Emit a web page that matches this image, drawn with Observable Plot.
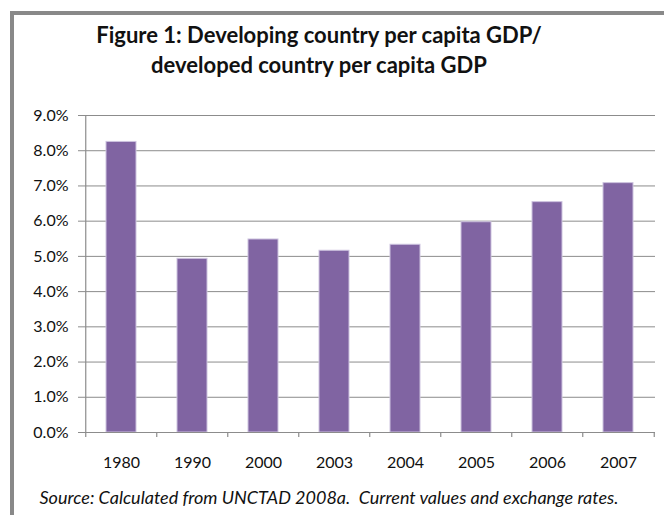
<!DOCTYPE html>
<html>
<head>
<meta charset="utf-8">
<script src="https://cdn.jsdelivr.net/npm/d3@7"></script>
<script src="https://cdn.jsdelivr.net/npm/@observablehq/plot@0.6"></script>
<style>
  html, body { margin: 0; padding: 0; background: #fff; }
  #wrap { position: relative; width: 664px; height: 515px; overflow: hidden; background: #fff; font-family: Lato, "Open Sans", sans-serif; }
  #frame { position: absolute; left: 10px; top: 11px; width: 700px; height: 600px; border-left: 4px solid #898989; border-top: 4px solid #898989; box-sizing: border-box; z-index: 5; pointer-events: none; }
  #title { position: absolute; left: -13px; width: 664px; top: 20px; text-align: center; font-weight: bold; font-size: 22px; line-height: 30px; color: #111; }
  #chart { position: absolute; left: 0; top: 90px; }
  #caption { position: absolute; left: -3px; width: 664px; top: 486px; text-align: center; font-style: italic; font-size: 18px; color: #111; white-space: pre; }
</style>
</head>
<body>
<div id="wrap">
  <div id="frame"></div>
  <div id="title">Figure 1: Developing country per capita GDP/<br>developed country per capita GDP</div>
  <div id="chart"></div>
  <div id="caption">Source: Calculated from UNCTAD 2008a.  Current values and exchange rates.</div>
</div>
<script>
const years = ["1980", "1990", "2000", "2003", "2004", "2005", "2006", "2007"];
const ratios = [8.25, 4.93, 5.48, 5.16, 5.33, 5.97, 6.54, 7.08];
const yTicks = [0, 1, 2, 3, 4, 5, 6, 7, 8, 9];

const data = years.map((y, i) => ({year: y, value: ratios[i]}));

const W = 664, H = 390, mL = 83, mR = 9, mT = 25, mB = 48;
const step = (W - mL - mR) / years.length;
const gray = "#8c8c8c";

const chart = Plot.plot({
  width: W,
  height: H,
  marginLeft: mL,
  marginRight: mR,
  marginTop: mT,
  marginBottom: mB,
  style: {fontFamily: "Lato, 'Open Sans', sans-serif", fontSize: "16px", color: "#111", background: "transparent"},
  x: {domain: years, paddingInner: 0.58, paddingOuter: 0.29, label: null},
  y: {domain: [0, 9], label: null},
  marks: [
    Plot.gridY(yTicks, {stroke: gray, strokeOpacity: 1, strokeWidth: 1}),
    Plot.barY(data, {x: "year", y: "value", fill: "#8064a2", stroke: "#cdc3df", strokeWidth: 1}),
    Plot.ruleX([0], {x: () => years[0], y1: 0, y2: 9, dx: -step / 2, stroke: gray, strokeWidth: 1.2}),
    Plot.ruleY([0], {stroke: gray, strokeWidth: 1.2}),
    Plot.ruleX(years, {x: d => d, y1: 0, y2: 0, dx: -step / 2, insetBottom: -5, stroke: gray, strokeWidth: 1.2}),
    Plot.ruleX([years[years.length - 1]], {x: d => d, y1: 0, y2: 0, dx: step / 2, insetBottom: -5, stroke: gray, strokeWidth: 1.2}),
    Plot.axisY(yTicks, {tickSize: 5, tickPadding: 10, tickFormat: d => d.toFixed(1) + "%", stroke: gray, strokeOpacity: 1, fill: "#111", fontSize: 16}),
    Plot.axisX({tickSize: 0, tickPadding: 24, fill: "#111", fontSize: 16})
  ]
});
document.getElementById("chart").appendChild(chart);
</script>
</body>
</html>
